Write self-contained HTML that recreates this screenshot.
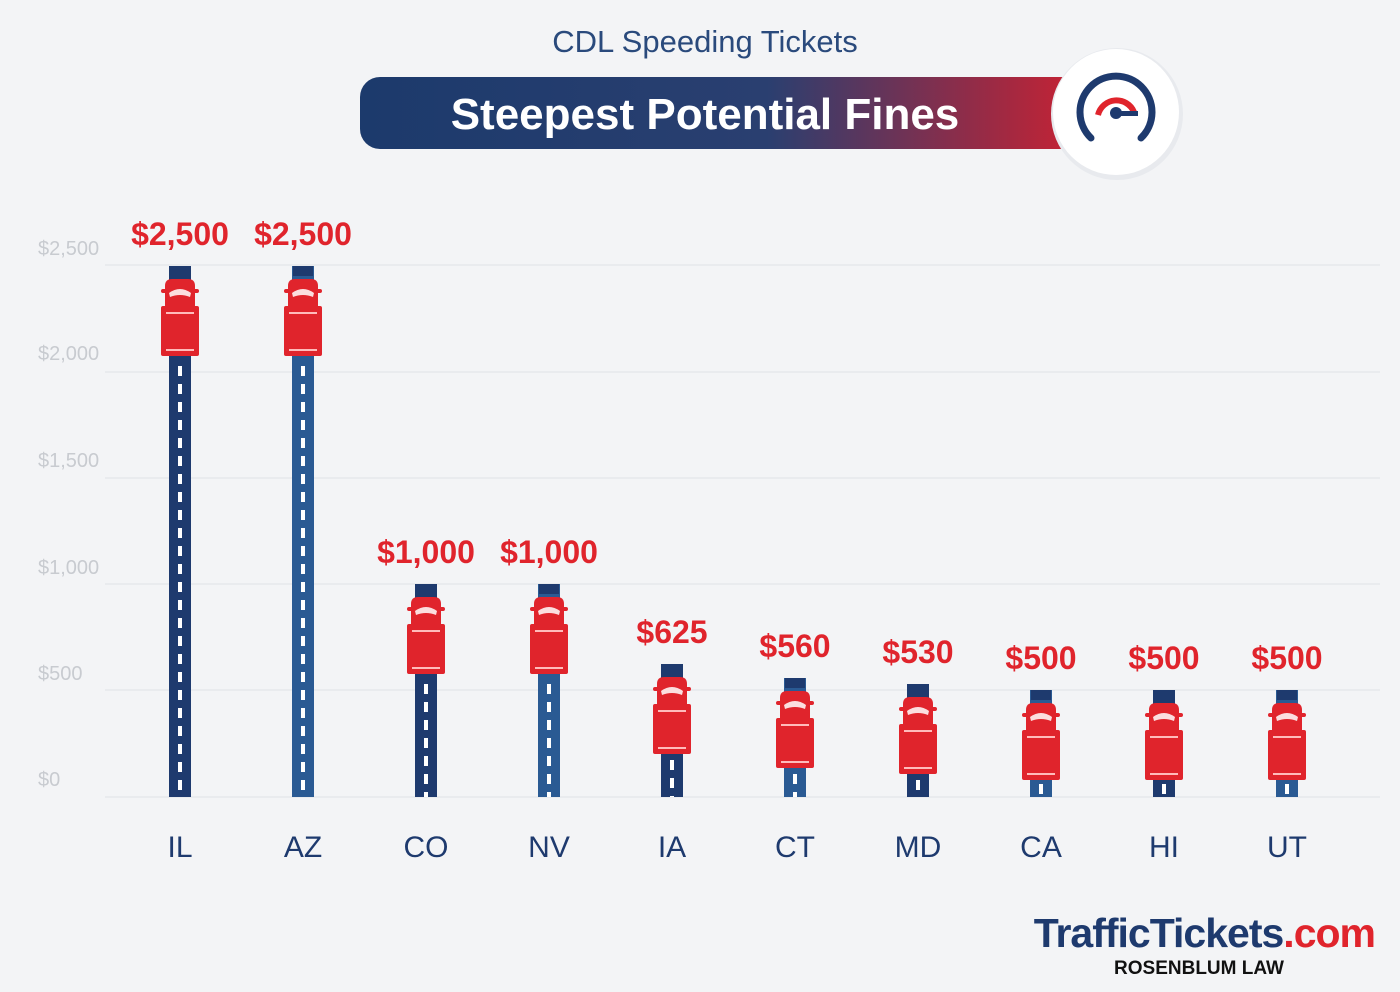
<!DOCTYPE html>
<html><head><meta charset="utf-8"><style>
html,body{margin:0;padding:0;background:#f3f4f6;}
svg{display:block}
</style></head><body>
<svg width="1400" height="992" viewBox="0 0 1400 992" xmlns="http://www.w3.org/2000/svg">
<defs>
<linearGradient id="g" x1="0" x2="1" y1="0" y2="0">
<stop offset="0" stop-color="#1c3a6c"/><stop offset="0.55" stop-color="#2a3f70"/><stop offset="1" stop-color="#d2202f"/>
</linearGradient>
<g id="truck">
<rect x="-10" y="0" width="20" height="10" fill="#1e3a6e"/>
<path d="M-15 44 L-15 20 Q-15 13 -8 13 L8 13 Q15 13 15 20 L15 44 Z" fill="#e0242c"/>
<rect x="-19" y="23" width="38" height="4" rx="2" fill="#e0242c"/>
<path d="M-11 27 Q0 19 11 27 L10 31 Q0 27 -10 31 Z" fill="#fff" opacity="0.85"/>
<rect x="-19" y="40" width="38" height="50" rx="2" fill="#e0242c"/>
<rect x="-14" y="46" width="28" height="2" fill="#fbb"/>
<rect x="-14" y="83" width="28" height="2" fill="#fbb"/>
</g>
</defs>
<rect width="1400" height="992" fill="#f3f4f6"/>
<text x="705" y="52" text-anchor="middle" font-family="Liberation Sans, sans-serif" font-size="31" fill="#2a4a7c">CDL Speeding Tickets</text>
<rect x="360" y="77" width="740" height="72" rx="20" fill="url(#g)"/>
<text x="705" y="129" text-anchor="middle" font-family="Liberation Sans, sans-serif" font-weight="bold" font-size="44" fill="#fff">Steepest Potential Fines</text>
<circle cx="1117" cy="114" r="66" fill="#e8eaee"/>
<circle cx="1116" cy="112" r="63" fill="#fff"/>
<path d="M1091 138 A36 36 0 1 1 1141 138" fill="none" stroke="#1e3a6e" stroke-width="7" stroke-linecap="round"/>
<path d="M1098 115 A19 19 0 0 1 1134 112" fill="none" stroke="#e0242c" stroke-width="6"/>
<circle cx="1116" cy="113" r="6" fill="#1e3a6e"/>
<rect x="1116" y="111" width="22" height="5" fill="#1e3a6e"/>
<g stroke="#e6e8ec" stroke-width="1.5">
<line x1="105" x2="1380" y1="265" y2="265"/><line x1="105" x2="1380" y1="372" y2="372"/>
<line x1="105" x2="1380" y1="478" y2="478"/><line x1="105" x2="1380" y1="584" y2="584"/>
<line x1="105" x2="1380" y1="690" y2="690"/><line x1="105" x2="1380" y1="797" y2="797"/>
</g>
<g font-family="Liberation Sans, sans-serif" font-size="20" fill="#c8cbd0">
<text x="38" y="255">$2,500</text><text x="38" y="360">$2,000</text><text x="38" y="467">$1,500</text>
<text x="38" y="574">$1,000</text><text x="38" y="680">$500</text><text x="38" y="786">$0</text>
</g>
<g>
<rect x="169" y="266" width="22" height="531" fill="#1e3a6e"/>
<rect x="292" y="266" width="22" height="531" fill="#2a5a93"/>
<rect x="415" y="584" width="22" height="213" fill="#1e3a6e"/>
<rect x="538" y="584" width="22" height="213" fill="#2a5a93"/>
<rect x="661" y="664" width="22" height="133" fill="#1e3a6e"/>
<rect x="784" y="678" width="22" height="119" fill="#2a5a93"/>
<rect x="907" y="684" width="22" height="113" fill="#1e3a6e"/>
<rect x="1030" y="690" width="22" height="107" fill="#2a5a93"/>
<rect x="1153" y="690" width="22" height="107" fill="#1e3a6e"/>
<rect x="1276" y="690" width="22" height="107" fill="#2a5a93"/>
</g>
<g stroke="#fff" stroke-width="4" stroke-dasharray="10 8">
<line x1="180" x2="180" y1="366" y2="797"/><line x1="303" x2="303" y1="366" y2="797"/>
<line x1="426" x2="426" y1="684" y2="797"/><line x1="549" x2="549" y1="684" y2="797"/>
<line x1="672" x2="672" y1="760" y2="797"/><line x1="795" x2="795" y1="774" y2="797"/>
<line x1="918" x2="918" y1="780" y2="797"/><line x1="1041" x2="1041" y1="784" y2="797"/>
<line x1="1164" x2="1164" y1="784" y2="797"/><line x1="1287" x2="1287" y1="784" y2="797"/>
</g>
<use href="#truck" x="180" y="266"/><use href="#truck" x="303" y="266"/>
<use href="#truck" x="426" y="584"/><use href="#truck" x="549" y="584"/>
<use href="#truck" x="672" y="664"/><use href="#truck" x="795" y="678"/>
<use href="#truck" x="918" y="684"/><use href="#truck" x="1041" y="690"/>
<use href="#truck" x="1164" y="690"/><use href="#truck" x="1287" y="690"/>
<g font-family="Liberation Sans, sans-serif" font-weight="bold" font-size="32" fill="#e0242c" text-anchor="middle">
<text x="180" y="245">$2,500</text><text x="303" y="245">$2,500</text>
<text x="426" y="563">$1,000</text><text x="549" y="563">$1,000</text>
<text x="672" y="643">$625</text><text x="795" y="657">$560</text><text x="918" y="663">$530</text>
<text x="1041" y="669">$500</text><text x="1164" y="669">$500</text><text x="1287" y="669">$500</text>
</g>
<g font-family="Liberation Sans, sans-serif" font-size="30" fill="#1e3a6e" text-anchor="middle">
<text x="180" y="857">IL</text><text x="303" y="857">AZ</text><text x="426" y="857">CO</text><text x="549" y="857">NV</text>
<text x="672" y="857">IA</text><text x="795" y="857">CT</text><text x="918" y="857">MD</text><text x="1041" y="857">CA</text>
<text x="1164" y="857">HI</text><text x="1287" y="857">UT</text>
</g>
<text x="1375" y="947" text-anchor="end" font-family="Liberation Sans, sans-serif" font-weight="bold" font-size="41" letter-spacing="-1" fill="#1e3a6e">TrafficTickets<tspan fill="#e0242c">.com</tspan></text>
<text x="1199" y="974" text-anchor="middle" font-family="Liberation Sans, sans-serif" font-weight="bold" font-size="19" fill="#111">ROSENBLUM LAW</text>
</svg>
</body></html>
